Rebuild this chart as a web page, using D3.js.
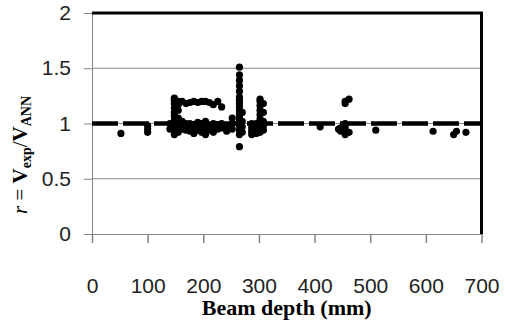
<!DOCTYPE html>
<html>
<head>
<meta charset="utf-8">
<script src="https://cdn.jsdelivr.net/npm/d3@7"></script>
<style>
  body { margin: 0; background: #fff; }
</style>
</head>
<body>
<div id="chart"></div>
<script>
// beam depth (mm) and ratio r = Vexp / VANN
const depth = [
  52,
  100, 100, 100,
  140, 140,
  148, 148, 148, 148, 148, 148, 148, 148, 148, 148, 148,
  155, 155, 155, 155, 155, 155, 155,
  162, 162, 162, 162,
  169, 169, 169, 169,
  176, 176, 176, 176,
  183, 183, 183, 183,
  190, 190, 190, 190,
  197, 197, 197, 197,
  204, 204, 204, 204, 204,
  211, 211, 211,
  218, 218, 218, 218,
  226, 226, 226,
  233, 233, 233,
  242, 242,
  252, 252, 252,
  265, 265, 265, 265, 265, 265, 265, 265, 265, 265, 265, 265, 265, 265, 265, 265, 265, 265,
  270, 270, 270, 270,
  287, 287, 287, 287,
  295, 295, 295,
  302, 302, 302, 302, 302, 302, 302, 302, 302,
  308, 308, 308, 308, 308,
  410,
  443, 447, 447,
  455, 455, 455, 455, 455, 455,
  462, 462,
  510,
  613,
  650, 655,
  672
];
const ratio = [
  0.91,
  0.92, 0.95, 0.98,
  0.95, 1.0,
  0.9, 0.93, 0.97, 1.0, 1.03, 1.07, 1.1, 1.14, 1.18, 1.21, 1.23,
  0.92, 0.96, 1.0, 1.05, 1.12, 1.17, 1.2,
  0.95, 0.98, 1.02, 1.2,
  0.94, 0.97, 1.0, 1.18,
  0.93, 0.96, 1.0, 1.19,
  0.91, 0.95, 0.99, 1.2,
  0.94, 0.97, 1.01, 1.19,
  0.92, 0.96, 1.0, 1.2,
  0.9, 0.93, 0.97, 1.02, 1.2,
  0.94, 0.98, 1.19,
  0.92, 0.96, 1.0, 1.17,
  0.95, 0.99, 1.2,
  0.96, 1.0, 1.15,
  0.93, 0.97,
  0.95, 1.0, 1.05,
  0.79, 0.9, 0.94, 0.98, 1.0, 1.03, 1.06, 1.09, 1.12, 1.15, 1.18, 1.21, 1.24, 1.29, 1.34, 1.39, 1.44, 1.51,
  0.92, 0.97, 1.02, 1.1,
  0.9, 0.93, 0.96, 1.0,
  0.91, 0.95, 1.0,
  0.92, 0.96, 1.0, 1.04, 1.08, 1.12, 1.16, 1.2, 1.22,
  0.94, 0.98, 1.02, 1.1, 1.18,
  0.97,
  0.95, 0.93, 0.96,
  0.9, 0.94, 0.97, 1.0, 1.18, 1.2,
  1.22, 0.92,
  0.94,
  0.93,
  0.9, 0.93,
  0.92
];
const xTicks = [0, 100, 200, 300, 400, 500, 600, 700];
const xTickLabels = ['0', '100', '200', '300', '400', '500', '600', '700'];
const yTicks = [0, 0.5, 1, 1.5, 2];
const yTickLabels = ['0', '0.5', '1', '1.5', '2'];
const refLine = [1];

const width = 507;
const height = 325;
const plotL = 92, plotR = 481.5, plotT = 13, plotB = 234;

const x = d3.scaleLinear().domain([0, 700]).range([plotL, plotR]);
const y = d3.scaleLinear().domain([0, 2]).range([plotB, plotT]);

const svg = d3.select('#chart')
  .append('svg')
  .attr('width', width)
  .attr('height', height)
  .style('font-family', '"Liberation Sans", Arial, sans-serif');

// grid lines
svg.append('g')
  .selectAll('line')
  .data(yTicks.filter(d => d > 0))
  .join('line')
  .attr('x1', plotL)
  .attr('x2', plotR)
  .attr('y1', d => y(d))
  .attr('y2', d => y(d))
  .attr('stroke', '#868686')
  .attr('stroke-width', 1);

// y axis
const yAxis = d3.axisLeft(y)
  .tickValues(yTicks)
  .tickFormat((d, i) => yTickLabels[i])
  .tickSize(8)
  .tickPadding(13)
  .tickSizeOuter(0);

svg.append('g')
  .attr('transform', `translate(${plotL},0)`)
  .call(yAxis)
  .call(g => g.select('.domain').attr('stroke', '#868686'))
  .call(g => g.selectAll('.tick line').attr('stroke', '#868686'))
  .call(g => g.selectAll('.tick text')
    .attr('fill', '#222')
    .style('font-size', '21px')
    .style('font-family', '"Liberation Sans", Arial, sans-serif'));

// x axis
const xAxis = d3.axisBottom(x)
  .tickValues(xTicks)
  .tickFormat((d, i) => xTickLabels[i])
  .tickSize(9)
  .tickPadding(35)
  .tickSizeOuter(0);

svg.append('g')
  .attr('transform', `translate(0,${plotB})`)
  .call(xAxis)
  .call(g => g.select('.domain').attr('stroke', '#868686'))
  .call(g => g.selectAll('.tick line').attr('stroke', '#868686').attr('stroke-width', 1.5))
  .call(g => g.selectAll('.tick text')
    .attr('fill', '#222')
    .style('font-size', '21px')
    .style('font-family', '"Liberation Sans", Arial, sans-serif'));

// plot frame, top and right
svg.append('path')
  .attr('d', `M${x(0)},${y(2)}H${x(700)}V${y(0)}`)
  .attr('fill', 'none')
  .attr('stroke', '#000')
  .attr('stroke-width', 3);

// r = 1 reference line
svg.append('g')
  .selectAll('line')
  .data(refLine)
  .join('line')
  .attr('x1', x(0))
  .attr('x2', x(700))
  .attr('y1', d => y(d))
  .attr('y2', d => y(d))
  .attr('stroke', '#000')
  .attr('stroke-width', 4.5)
  .attr('stroke-dasharray', '26,5');

// points
svg.append('g')
  .attr('fill', '#000')
  .selectAll('circle')
  .data(d3.range(depth.length))
  .join('circle')
  .attr('cx', i => x(depth[i]))
  .attr('cy', i => y(ratio[i]))
  .attr('r', 3.6);

// x title
svg.append('text')
  .attr('x', (plotL + plotR) / 2)
  .attr('y', 315)
  .attr('text-anchor', 'middle')
  .style('font-family', '"Liberation Serif", "Times New Roman", serif')
  .style('font-weight', 'bold')
  .style('font-size', '22px')
  .text('Beam depth (mm)');

// y title
const yt = svg.append('text')
  .attr('transform', 'translate(27,155) rotate(-90)')
  .attr('text-anchor', 'middle')
  .style('font-family', '"Liberation Serif", "Times New Roman", serif')
  .style('font-size', '21px');
yt.append('tspan').style('font-style', 'italic').text('r');
yt.append('tspan').text(' = ');
yt.append('tspan').style('font-weight', 'bold').text('V');
yt.append('tspan').attr('dy', 4).style('font-size', '14px').style('font-weight', 'bold').text('exp');
yt.append('tspan').attr('dy', -4).text('/');
yt.append('tspan').style('font-weight', 'bold').text('V');
yt.append('tspan').attr('dy', 4).style('font-size', '14px').style('font-weight', 'bold').text('ANN');
</script>
</body>
</html>
